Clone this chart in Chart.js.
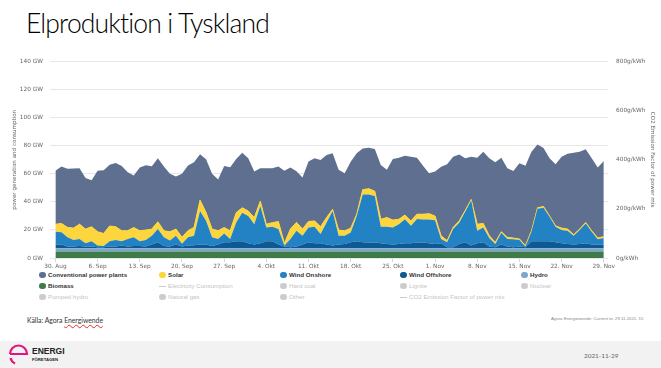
<!DOCTYPE html>
<html>
<head>
<meta charset="utf-8">
<script src="https://cdn.jsdelivr.net/npm/chart.js@4.4.0/dist/chart.umd.min.js"></script>
<style>
  html, body { margin: 0; padding: 0; width: 661px; height: 368px; overflow: hidden; background: #fff; font-family: "Liberation Sans", Arial, sans-serif; }
  #title { position: absolute; left: 26px; top: 7px; font-family: Lato, "Open Sans", sans-serif; font-weight: 300; font-size: 26.5px; letter-spacing: -0.85px; color: #000; white-space: nowrap; }
  #wrap { position: absolute; left: 0; top: 50px; width: 661px; height: 220px; }
  #legend { position: absolute; left: 0; top: 271px; width: 661px; height: 36px; }
  .item { position: absolute; font-size: 6.2px; line-height: 8px; white-space: nowrap; font-weight: bold; color: #333; }
  .item.off { color: #c4c4c4; font-weight: normal; }
  .dot { position: absolute; left: -9px; top: 0.5px; width: 6.5px; height: 6.5px; border-radius: 50%; }
  .dash { position: absolute; left: -9px; top: 3.5px; width: 7px; height: 1px; }
  #source { position: absolute; left: 27px; top: 316px; font-family: Lato, sans-serif; font-size: 6.8px; color: #333; }
  #source span { text-decoration: underline wavy #e03030; text-decoration-thickness: 0.5px; }
  #credit { position: absolute; left: 551px; top: 316px; font-size: 4.3px; color: #888; white-space: nowrap; }
  #band { position: absolute; left: 0; top: 341px; width: 661px; height: 27px; background: #f2f2f2; }
  #date { position: absolute; left: 584px; top: 352px; font-family: Lato, sans-serif; font-size: 6.4px; color: #666; }
  #logo { position: absolute; left: 7px; top: 343px; }
</style>
</head>
<body>
<div id="title">Elproduktion i Tyskland</div>
<div id="wrap"><canvas id="elChart" width="661" height="220"></canvas></div>
<div id="legend"></div>
<div id="source">Källa: Agora <span>Energiwende</span></div>
<div id="credit">Agora Energiewende; Current to: 29.11.2021, 15</div>
<div id="band"></div>
<svg id="logo" width="60" height="24" viewBox="0 0 60 24">
  <path d="M3 11 A8.5 8.5 0 0 1 20 11 L3 11" fill="none" stroke="#e4157f" stroke-width="2.2"/>
  <path d="M3.5 15 A8.5 8.5 0 0 0 8 20.5" fill="none" stroke="#e4157f" stroke-width="2.2"/>
  <text x="25" y="11" font-family="Liberation Sans" font-weight="bold" font-size="8.5" fill="#222">ENERGI</text>
  <text x="25" y="18" font-family="Liberation Sans" font-weight="bold" font-size="4.2" fill="#222">FÖRETAGEN</text>
</svg>
<div id="date">2021-11-29</div>

<script>
// days since 30 Aug 2021, one point per day
const tickDays = [0, 7, 14, 21, 28, 35, 42, 49, 56, 63, 70, 77, 84, 91];
const dateLabels = ["30. Aug", "6. Sep", "13. Sep", "20. Sep", "27. Sep", "4. Okt", "11. Okt",
  "18. Okt", "25. Okt", "1. Nov", "8. Nov", "15. Nov", "22. Nov", "29. Nov"];

// GW
const biomass = [
  4.7, 4.7, 4.7, 4.7, 4.7, 4.7, 4.7, 4.7, 4.7, 4.7,
  4.7, 4.7, 4.7, 4.7, 4.7, 4.7, 4.7, 4.7, 4.7, 4.7,
  4.7, 4.7, 4.7, 4.7, 4.7, 4.7, 4.7, 4.7, 4.7, 4.7,
  4.7, 4.7, 4.7, 4.7, 4.7, 4.7, 4.7, 4.7, 4.7, 4.7,
  4.7, 4.7, 4.7, 4.7, 4.7, 4.7, 4.7, 4.7, 4.7, 4.7,
  4.7, 4.7, 4.7, 4.7, 4.7, 4.7, 4.7, 4.7, 4.7, 4.7,
  4.7, 4.7, 4.7, 4.7, 4.7, 4.7, 4.7, 4.7, 4.7, 4.7,
  4.7, 4.7, 4.7, 4.7, 4.7, 4.7, 4.7, 4.7, 4.7, 4.7,
  4.7, 4.7, 4.7, 4.7, 4.7, 4.7, 4.7, 4.7, 4.7, 4.7,
  4.7, 4.7];
const hydro = [
  2.3, 2.3, 2.3, 2.3, 2.3, 2.3, 2.3, 2.3, 2.3, 2.3,
  2.3, 2.3, 2.3, 2.3, 2.3, 2.3, 2.3, 2.3, 2.3, 2.3,
  2.3, 2.3, 2.3, 2.3, 2.3, 2.3, 2.3, 2.3, 2.3, 2.3,
  2.3, 2.3, 2.3, 2.3, 2.3, 2.3, 2.3, 2.3, 2.3, 2.3,
  2.3, 2.3, 2.3, 2.3, 2.3, 2.3, 2.3, 2.3, 2.3, 2.3,
  2.3, 2.3, 2.3, 2.3, 2.3, 2.3, 2.3, 2.3, 2.3, 2.3,
  2.3, 2.3, 2.3, 2.3, 2.3, 2.3, 2.3, 2.3, 2.3, 2.3,
  2.3, 2.3, 2.3, 2.3, 2.3, 2.3, 2.3, 2.3, 2.3, 2.3,
  2.3, 2.3, 2.3, 2.3, 2.3, 2.3, 2.3, 2.3, 2.3, 2.3,
  2.3, 2.3];
const windOffshore = [
  2.6, 2.6, 1.2, 1.2, 1.6, 1.2, 1.2, 0.7, 0.7, 1.2,
  1.2, 1.9, 1.2, 1.6, 1.6, 1.2, 2.6, 4.2, 1.6, 1.2,
  2.6, 1.2, 1.9, 2.1, 2.6, 2.6, 1.6, 2.6, 4.2, 4.2,
  4.9, 4.9, 3.5, 2.6, 3.5, 4.9, 4.9, 2.6, 1.2, 0.7,
  1.2, 2.6, 4.2, 3.5, 3.5, 2.6, 1.9, 2.6, 3.0, 4.2,
  4.9, 4.2, 4.0, 4.0, 3.5, 3.0, 2.6, 3.0, 3.5, 3.5,
  4.0, 4.0, 3.5, 3.0, 3.5, 0.7, 0.7, 3.0, 4.2, 1.9,
  3.5, 4.2, 1.2, 0.7, 2.6, 1.2, 0.7, 1.2, 0.7, 4.9,
  4.9, 4.9, 4.9, 4.2, 3.5, 3.0, 2.6, 3.0, 3.5, 2.6,
  2.6, 2.6];
const windOnshore = [
  9.1, 8.7, 6.6, 4.7, 4.9, 2.3, 3.8, 1.2, 0.9, 3.8,
  4.7, 3.0, 5.4, 6.1, 3.3, 4.7, 6.3, 9.4, 6.1, 4.2,
  6.3, 1.9, 5.9, 6.8, 23.9, 16.9, 6.1, 4.0, 6.3, 2.3,
  13.4, 20.4, 19.5, 14.5, 26.5, 9.9, 10.3, 11.0, 0.7, 5.9,
  11.3, 6.3, 10.6, 11.7, 6.6, 15.7, 24.6, 6.3, 5.9, 7.0,
  18.1, 34.0, 34.2, 33.1, 11.7, 12.2, 12.2, 14.1, 17.1, 12.4,
  16.7, 16.4, 16.9, 16.9, 3.0, 3.5, 12.9, 15.2, 21.8, 32.1,
  8.9, 10.6, 6.1, 2.3, 8.4, 5.4, 5.6, 4.7, 0.5, 6.8,
  23.2, 23.9, 17.4, 11.0, 9.4, 9.4, 6.3, 9.9, 14.1, 9.1,
  3.8, 4.7];
const solar = [
  5.4, 6.3, 7.0, 8.4, 10.6, 10.1, 10.3, 9.8, 8.9, 10.8,
  9.4, 7.5, 5.9, 7.0, 7.5, 7.0, 4.7, 5.2, 4.7, 6.3,
  4.7, 4.7, 4.7, 5.9, 7.7, 5.9, 5.9, 5.9, 4.2, 5.9,
  7.0, 3.5, 3.5, 4.7, 3.5, 2.3, 3.0, 5.4, 1.6, 7.0,
  5.9, 4.7, 4.2, 4.2, 5.2, 3.5, 1.2, 4.0, 3.5, 3.0,
  1.2, 3.5, 4.2, 3.5, 5.4, 6.6, 5.2, 3.5, 3.0, 3.5,
  3.5, 3.8, 4.2, 3.0, 2.3, 1.2, 1.2, 1.2, 0.9, 0.7,
  4.7, 2.8, 1.6, 1.2, 0.7, 1.2, 0.9, 0.7, 0.7, 0.7,
  0.7, 0.9, 0.7, 0.7, 1.4, 1.2, 0.7, 0.7, 0.7, 0.7,
  0.9, 0.9];
const conventional = [
  38.0, 40.6, 41.7, 42.4, 39.9, 36.4, 33.1, 43.4, 45.0, 43.6,
  45.3, 46.2, 41.5, 37.1, 45.0, 46.2, 44.8, 45.3, 45.7, 41.3,
  37.5, 45.3, 46.4, 46.4, 32.8, 38.0, 39.4, 36.4, 43.9, 45.3,
  38.2, 39.2, 37.5, 32.8, 23.5, 39.9, 38.7, 39.2, 51.6, 43.9,
  36.4, 36.8, 42.7, 44.6, 47.6, 44.6, 39.9, 42.9, 41.0, 47.4,
  43.4, 29.3, 29.1, 30.0, 38.7, 34.0, 43.6, 43.9, 42.2, 45.7,
  40.3, 34.5, 28.8, 31.7, 49.2, 54.4, 50.4, 47.4, 37.1, 30.5,
  47.4, 51.1, 55.1, 57.0, 52.8, 49.2, 47.8, 53.9, 56.8, 56.3,
  45.0, 41.7, 41.0, 43.9, 50.9, 53.7, 58.4, 55.1, 52.1, 51.6,
  50.2, 53.9];

// legend, row by row as in the source
const legendNames = ["Conventional power plants", "Solar", "Wind Onshore", "Wind Offshore", "Hydro",
  "Biomass", "Electricity Consumption", "Hard coal", "Lignite", "Nuclear",
  "Pumped hydro", "Natural gas", "Other", "CO2 Emission Factor of power mix"];
const legendColors = ["#5f6f8f", "#fdd53c", "#2382c4", "#0f5993", "#7ba7cf",
  "#3f7a49", "#cccccc", "#cccccc", "#cccccc", "#cccccc",
  "#cccccc", "#cccccc", "#cccccc", "#cccccc"];
const legendOn = [true, true, true, true, true, true, false, false, false, false, false, false, false, false];
const legendLine = ["Electricity Consumption", "CO2 Emission Factor of power mix"];

const colX = [48, 168, 289, 409, 530];
const rowY = [0, 11, 22];
const legendEl = document.getElementById("legend");
legendNames.forEach((name, i) => {
  const el = document.createElement("div");
  el.className = "item" + (legendOn[i] ? "" : " off");
  el.style.left = colX[i % 5] + "px";
  el.style.top = rowY[Math.floor(i / 5)] + "px";
  const mark = document.createElement("div");
  mark.className = legendLine.includes(name) ? "dash" : "dot";
  mark.style.background = legendColors[i];
  el.appendChild(mark);
  el.appendChild(document.createTextNode(name));
  legendEl.appendChild(el);
});

function pts(arr) {
  return arr.map((v, i) => ({ x: i, y: v }));
}

function area(label, arr, color, fill, bw) {
  return {
    label: label,
    data: pts(arr),
    backgroundColor: color,
    borderColor: color,
    borderWidth: bw || 0,
    fill: fill,
    pointRadius: 0,
    tension: 0,
    yAxisID: "y"
  };
}

let ctx = document.getElementById("elChart").getContext("2d");
const tickFont = { family: "DejaVu Sans", size: 5.8 };

new Chart(ctx, {
  type: "line",
  data: {
    datasets: [
      area("Biomass", biomass, "#3f7a49", "origin"),
      area("Hydro", hydro, "#7ba7cf", "-1"),
      area("Wind Offshore", windOffshore, "#0f5993", "-1"),
      area("Wind Onshore", windOnshore, "#2382c4", "-1"),
      area("Solar", solar, "#fdd53c", "-1", 1),
      area("Conventional power plants", conventional, "#5f6f8f", "-1")
    ]
  },
  options: {
    responsive: false,
    animation: false,
    layout: { padding: { top: 9, left: 0, right: 0, bottom: 0 } },
    plugins: {
      legend: { display: false },
      tooltip: { enabled: false }
    },
    scales: {
      x: {
        type: "linear",
        min: -0.9,
        max: 91.7,
        afterBuildTicks: s => { s.ticks = tickDays.map(v => ({ value: v })); },
        afterFit: s => { s.height = 12; },
        ticks: {
          autoSkip: false,
          maxRotation: 0,
          padding: 1,
          color: "#666",
          font: tickFont,
          callback: (v, i) => dateLabels[i]
        },
        grid: { drawOnChartArea: false, tickLength: 4, color: "#ccd6eb" },
        border: { display: false }
      },
      y: {
        stacked: true,
        position: "left",
        min: 0,
        max: 140,
        afterFit: s => { s.width = 50; },
        ticks: { stepSize: 20, padding: 7, color: "#666", font: tickFont, callback: v => v + " GW" },
        grid: { color: "#e6e6e6", drawTicks: false },
        border: { display: false },
        title: {
          display: true,
          text: "power generation and consumption",
          color: "#666",
          font: { family: "DejaVu Sans", size: 5.6 },
          padding: { top: 11, bottom: 0 }
        }
      },
      y2: {
        position: "right",
        min: 0,
        max: 800,
        afterFit: s => { s.width = 53; },
        ticks: { stepSize: 200, padding: 8, color: "#666", font: tickFont, callback: v => v + "g/kWh" },
        grid: { display: false, drawTicks: false },
        border: { display: false },
        title: {
          display: true,
          text: "CO2 Emission Factor of power mix",
          color: "#666",
          font: { family: "DejaVu Sans", size: 5.6 },
          padding: { top: 5, bottom: 0 }
        }
      }
    }
  }
});
</script>
</body>
</html>
